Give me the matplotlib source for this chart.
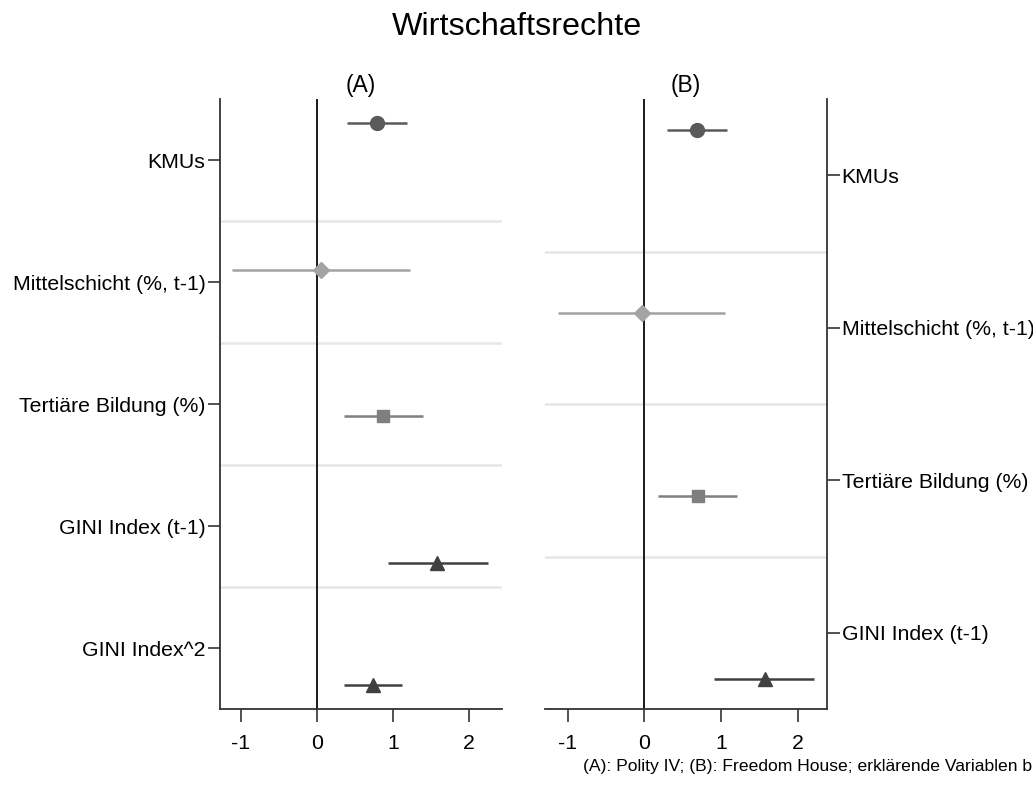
import matplotlib
matplotlib.use("Agg")
import matplotlib.pyplot as plt

plt.rcParams["font.family"] = ["Liberation Sans", "DejaVu Sans"]

# (A): Polity IV
labels_a = ["KMUs", "Mittelschicht (%, t-1)", "Tertiäre Bildung (%)",
            "GINI Index (t-1)", "GINI Index^2"]
coef_a = [0.79, 0.06, 0.87, 1.58, 0.74]
lo_a = [0.39, -1.11, 0.36, 0.93, 0.36]
hi_a = [1.19, 1.22, 1.40, 2.25, 1.12]

# (B): Freedom House
labels_b = ["KMUs", "Mittelschicht (%, t-1)", "Tertiäre Bildung (%)",
            "GINI Index (t-1)"]
coef_b = [0.68, -0.03, 0.70, 1.57]
lo_b = [0.29, -1.12, 0.18, 0.91]
hi_b = [1.08, 1.05, 1.21, 2.21]

xticks = [-1, 0, 1, 2]

# marker / colour / size / vertical offset per variable (coefplot-style)
STYLES = [
    ("o", "#5a5a5a", 10, -0.3),
    ("D", "#a3a3a3", 8.5, -0.1),
    ("s", "#7f7f7f", 9, 0.1),
    ("^", "#404040", 10, 0.3),
    ("^", "#404040", 10, 0.3),
]

W, H = 1033, 794
fig = plt.figure(figsize=(W / 100, H / 100), dpi=100)


def px_axes(x0, x1, y0, y1):
    return fig.add_axes([x0 / W, 1 - y1 / H, (x1 - x0) / W, (y1 - y0) / H])


def draw_panel(ax, labels, coef, lo, hi, xlim, title, right):
    n = len(labels)
    for i in range(n):
        m, c, ms, off = STYLES[i]
        y = i + 1 + off
        ax.plot([lo[i], hi[i]], [y, y], color=c, lw=1.8, solid_capstyle="butt",
                zorder=3)
        ax.plot(coef[i], y, marker=m, color=c, ms=ms, mec=c, ls="none", zorder=4)
    for k in range(1, n):
        ax.axhline(k + 0.5, color="#e6e6e6", lw=1.8, zorder=1)
    ax.axvline(0, color="#1a1a1a", lw=1.4, zorder=2)
    ax.set_xlim(*xlim)
    ax.set_ylim(n + 0.5, 0.5)
    ax.set_yticks(range(1, n + 1))
    ax.set_yticklabels(labels, fontsize=15.3)
    ax.set_xticks(xticks)
    ax.set_xticklabels([str(t) for t in xticks], fontsize=15.3)
    ax.tick_params(axis="both", length=9, width=1.2, color="#333333")
    ax.tick_params(axis="y", pad=1.5)
    ax.tick_params(axis="x", pad=9)
    ax.spines["top"].set_visible(False)
    for s in ("left", "right", "bottom"):
        ax.spines[s].set_color("#333333")
        ax.spines[s].set_linewidth(1.3)
    if right:
        ax.spines["left"].set_visible(False)
        ax.yaxis.tick_right()
    else:
        ax.spines["right"].set_visible(False)
    ax.set_title(title, fontsize=16.5, pad=5)


ax_a = px_axes(220, 502, 99, 709)
draw_panel(ax_a, labels_a, coef_a, lo_a, hi_a, (-1.27, 2.43), "(A)", right=False)

ax_b = px_axes(545, 827, 99, 709)
draw_panel(ax_b, labels_b, coef_b, lo_b, hi_b, (-1.295, 2.38), "(B)", right=True)

fig.text(517 / W, 1 - 27 / H, "Wirtschaftsrechte", ha="center", va="center",
         fontsize=23.3)
fig.text(583 / W, 1 - 767 / H,
         "(A): Polity IV; (B): Freedom House; erklärende Variablen b",
         ha="left", va="center", fontsize=12.6)

fig.savefig("out.png", dpi=100)
